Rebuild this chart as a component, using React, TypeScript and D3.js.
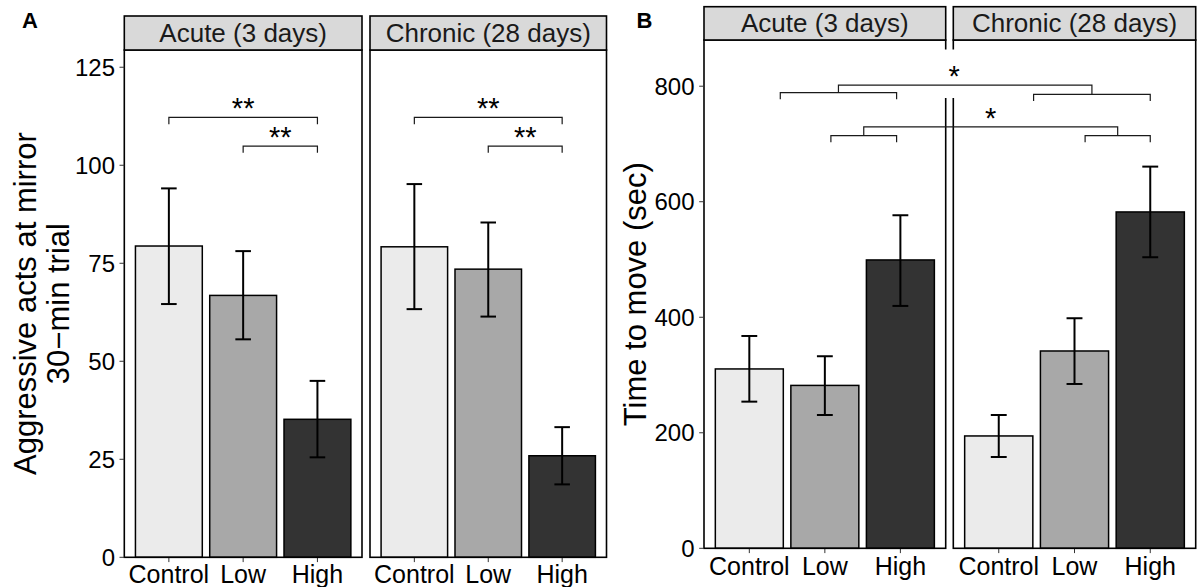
import React from 'react';
import * as d3 from 'd3';

const categories = ['Control', 'Low', 'High'];
const facetLabels = ['Acute (3 days)', 'Chronic (28 days)'];

// Panel A: aggressive acts at mirror (mean, lower, upper)
const aggAcute = [79.4, 66.8, 35.2];
const aggAcuteLower = [64.6, 55.6, 25.5];
const aggAcuteUpper = [94.1, 78.1, 45.0];
const aggChronic = [79.2, 73.5, 25.9];
const aggChronicLower = [63.3, 61.4, 18.6];
const aggChronicUpper = [95.2, 85.4, 33.2];
const aggTicks = [0, 25, 50, 75, 100, 125];

// Panel B: time to move (sec)
const moveAcute = [310.5, 282, 499.2];
const moveAcuteLower = [253.9, 230.8, 419.6];
const moveAcuteUpper = [367.6, 332.5, 576.6];
const moveChronic = [194.5, 341.6, 582.3];
const moveChronicLower = [158.1, 284.5, 503.9];
const moveChronicUpper = [230.8, 398.3, 660.8];
const moveTicks = [0, 200, 400, 600, 800];

// significance brackets (category position, value)
const aggBrackets = [
  { from: 0, to: 2, value: 112.2, label: '**' },
  { from: 1, to: 2, value: 104.9, label: '**' },
];
const moveNested = [
  { left: [0.41, 1.95], leftValue: 789, right: [0.46, 2.0], rightValue: 786, topValue: 802, label: '*', labelShift: -11 },
  { left: [1.08, 1.95], leftValue: 714.4, right: [1.14, 2.0], rightValue: 714.4, topValue: 729.5, label: '*', labelShift: 0 },
];

const FONT = "'Liberation Sans', Arial, Helvetica, sans-serif";
const fills = ['#EBEBEB', '#A8A8A8', '#333333'];

type FacetProps = {
  facetXs: [number, number][];
  top: number;
  bottom: number;
  stripTop: number;
  stripBaseline: number;
  y: d3.ScaleLinear<number, number>;
  means: number[][];
  lowers: number[][];
  uppers: number[][];
  ticks: number[];
  tickLabelX: number;
  xLabelBaseline: number;
};

function Facets(p: FacetProps) {
  return (
    <g>
      {p.facetXs.map((fx, fi) => {
        const band = d3.scaleBand<string>().domain(categories).range(fx).paddingInner(0.1).paddingOuter(0.15);
        const cap = band.step() * 0.105;
        return (
          <g key={fi}>
            <rect x={fx[0]} y={p.top} width={fx[1] - fx[0]} height={p.bottom - p.top} fill="#fff" />
            {categories.map((c, i) => {
              const x = band(c)!;
              const cx = x + band.bandwidth() / 2;
              const yt = p.y(p.means[fi][i]);
              const yl = p.y(p.lowers[fi][i]);
              const yu = p.y(p.uppers[fi][i]);
              return (
                <g key={c}>
                  <rect x={x} y={yt} width={band.bandwidth()} height={p.bottom - yt} fill={fills[i]} stroke="#000" strokeWidth={1.5} />
                  <line x1={cx} x2={cx} y1={yu} y2={yl} stroke="#000" strokeWidth={2} />
                  <line x1={cx - cap} x2={cx + cap} y1={yu} y2={yu} stroke="#000" strokeWidth={2} />
                  <line x1={cx - cap} x2={cx + cap} y1={yl} y2={yl} stroke="#000" strokeWidth={2} />
                  <line x1={cx} x2={cx} y1={p.bottom} y2={p.bottom + 4.8} stroke="#333" strokeWidth={1} />
                  <text x={cx} y={p.xLabelBaseline} textAnchor="middle" fontSize={25} fontFamily={FONT} fill="#000">{c}</text>
                </g>
              );
            })}
            <rect x={fx[0]} y={p.top} width={fx[1] - fx[0]} height={p.bottom - p.top} fill="none" stroke="#000" strokeWidth={1.6} />
            <rect x={fx[0]} y={p.stripTop} width={fx[1] - fx[0]} height={p.top - p.stripTop} fill="#D9D9D9" stroke="#000" strokeWidth={1.6} />
            <text x={(fx[0] + fx[1]) / 2} y={p.stripBaseline} textAnchor="middle" fontSize={26} fontFamily={FONT} fill="#1A1A1A">{facetLabels[fi]}</text>
          </g>
        );
      })}
      {p.ticks.map((t) => (
        <g key={t}>
          <line x1={p.facetXs[0][0] - 4.8} x2={p.facetXs[0][0]} y1={p.y(t)} y2={p.y(t)} stroke="#333" strokeWidth={1} />
          <text x={p.tickLabelX} y={p.y(t)} dy="0.36em" textAnchor="end" fontSize={24} fontFamily={FONT} fill="#000">{t}</text>
        </g>
      ))}
    </g>
  );
}

export default function App() {
  const facetA: [number, number][] = [[124.3, 362], [370, 606.5]];
  const facetB: [number, number][] = [[704, 945.7], [953.3, 1195.7]];
  const yA = d3.scaleLinear().domain([0, 129.4]).range([557.3, 50]);
  const yB = d3.scaleLinear().domain([0, 880]).range([548.3, 40]);
  const posA = facetA.map((fx) => d3.scaleLinear().domain([-0.6, 2.6]).range(fx));
  const posB = facetB.map((fx) => d3.scaleLinear().domain([-0.6, 2.6]).range(fx));
  const tick = 6.7;
  const brStroke = '#1a1a1a';

  return (
    <svg width={1199} height={587} style={{ position: 'absolute', left: 0, top: 0, background: '#fff' }}>
      <rect x={0} y={0} width={1199} height={587} fill="#fff" />
      {/* Panel A */}
      <Facets
        facetXs={facetA} top={50} bottom={557.3} stripTop={16} stripBaseline={42}
        y={yA} means={[aggAcute, aggChronic]} lowers={[aggAcuteLower, aggChronicLower]} uppers={[aggAcuteUpper, aggChronicUpper]}
        ticks={aggTicks} tickLabelX={115} xLabelBaseline={582.5}
      />
      {posA.map((pos, fi) => (
        <g key={fi}>
          {aggBrackets.map((b, bi) => {
            const yy = yA(b.value);
            const x1 = pos(b.from), x2 = pos(b.to);
            return (
              <g key={bi}>
                <path d={`M${x1},${yy + tick}L${x1},${yy}L${x2},${yy}L${x2},${yy + tick}`} fill="none" stroke={brStroke} strokeWidth={1.2} />
                <text x={(x1 + x2) / 2} y={yy + 1} textAnchor="middle" fontSize={29} fontFamily={FONT} fill="#000">{b.label}</text>
              </g>
            );
          })}
        </g>
      ))}
      <text transform="translate(36,303.6) rotate(-90)" textAnchor="middle" fontSize={31} fontFamily={FONT} fill="#000">Aggressive acts at mirror</text>
      <text transform="translate(69,303.6) rotate(-90)" textAnchor="middle" fontSize={31} fontFamily={FONT} fill="#000">30−min trial</text>
      <text x={22} y={28} fontSize={22} fontWeight="bold" fontFamily={FONT} fill="#000">A</text>

      {/* Panel B */}
      <Facets
        facetXs={facetB} top={40} bottom={548.3} stripTop={6.7} stripBaseline={32}
        y={yB} means={[moveAcute, moveChronic]} lowers={[moveAcuteLower, moveChronicLower]} uppers={[moveAcuteUpper, moveChronicUpper]}
        ticks={moveTicks} tickLabelX={694.5} xLabelBaseline={575}
      />
      <rect x={943.5} y={49.5} width={12} height={48.5} fill="#fff" />
      {moveNested.map((b, bi) => {
        const lx1 = posB[0](b.left[0]), lx2 = posB[0](b.left[1]);
        const rx1 = posB[1](b.right[0]), rx2 = posB[1](b.right[1]);
        const ly = yB(b.leftValue), ry = yB(b.rightValue), ty = yB(b.topValue);
        const lm = (lx1 + lx2) / 2, rm = (rx1 + rx2) / 2;
        return (
          <g key={bi}>
            <path d={`M${lx1},${ly + tick}L${lx1},${ly}L${lx2},${ly}L${lx2},${ly + tick}`} fill="none" stroke={brStroke} strokeWidth={1.2} />
            <path d={`M${rx1},${ry + tick}L${rx1},${ry}L${rx2},${ry}L${rx2},${ry + tick}`} fill="none" stroke={brStroke} strokeWidth={1.2} />
            <path d={`M${lm},${ly}L${lm},${ty}L${rm},${ty}L${rm},${ry}`} fill="none" stroke={brStroke} strokeWidth={1.2} />
            <text x={(lm + rm) / 2 + b.labelShift} y={ty + 1} textAnchor="middle" fontSize={29} fontFamily={FONT} fill="#000">{b.label}</text>
          </g>
        );
      })}
      <text transform="translate(645.5,294.2) rotate(-90)" textAnchor="middle" fontSize={31} fontFamily={FONT} fill="#000">Time to move (sec)</text>
      <text x={636.5} y={28} fontSize={22} fontWeight="bold" fontFamily={FONT} fill="#000">B</text>
    </svg>
  );
}
